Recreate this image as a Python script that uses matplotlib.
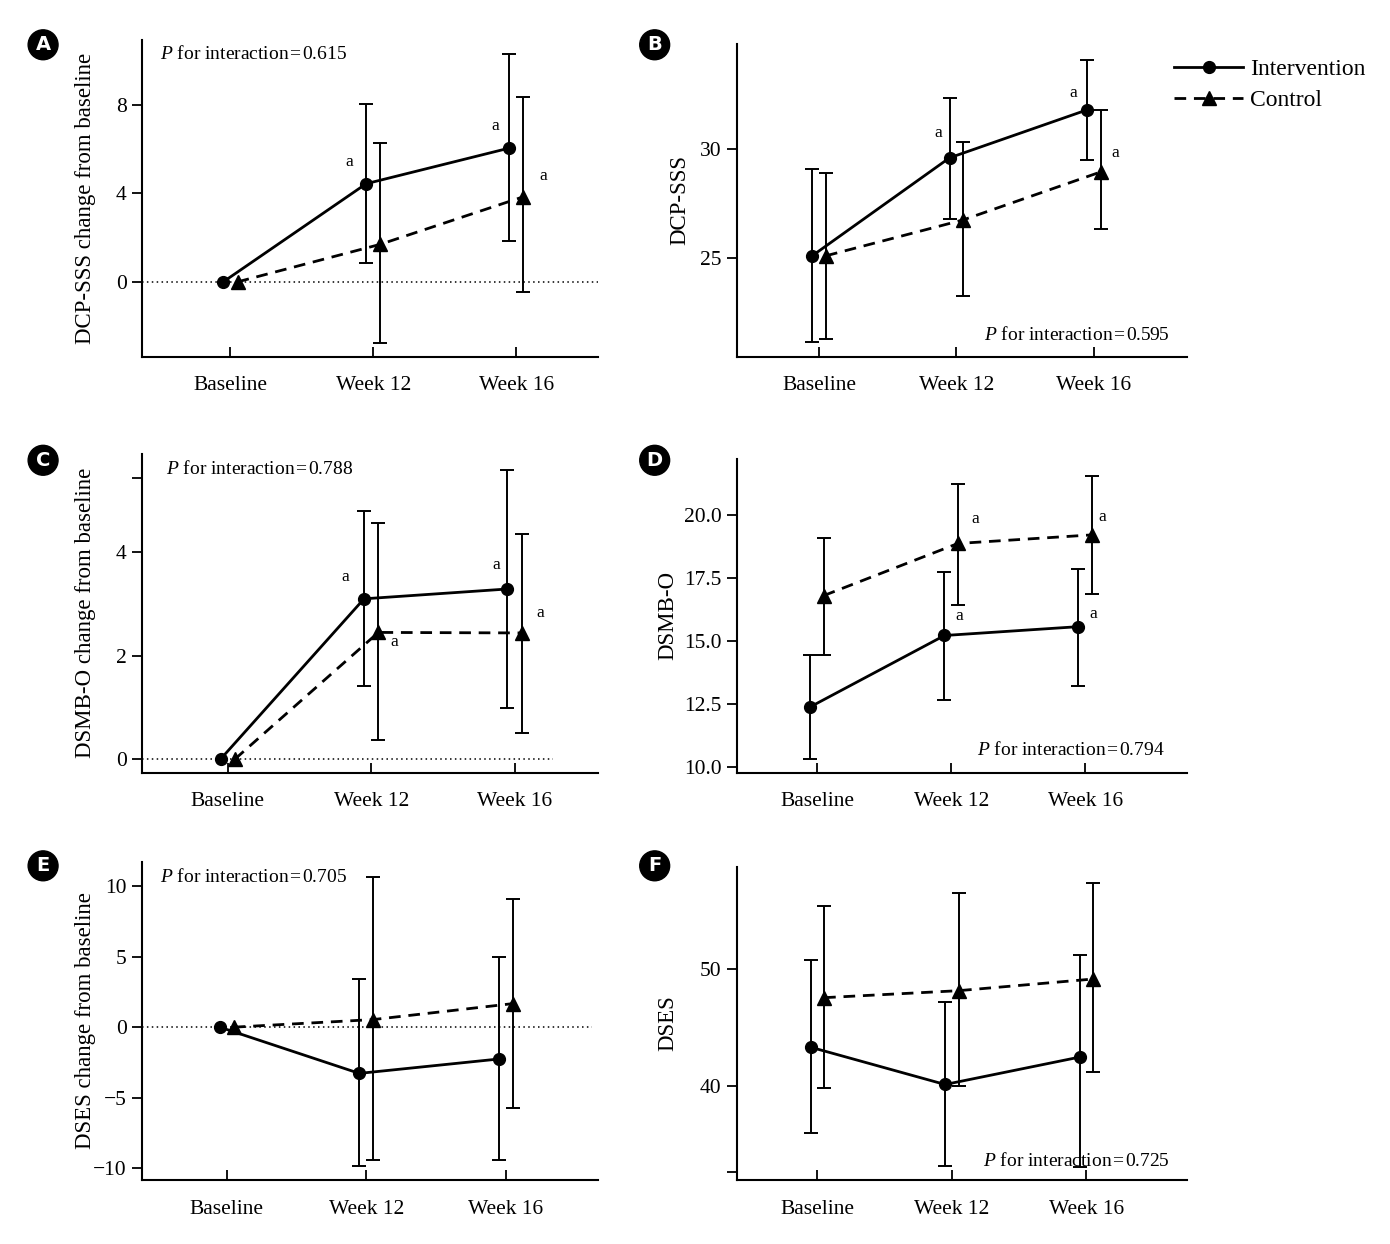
"""Six-panel change/level plot: intervention vs control over Baseline, Week 12, Week 16."""
import numpy as np
import matplotlib

matplotlib.use("Agg")
import matplotlib.pyplot as plt
from matplotlib.lines import Line2D

plt.rcParams["font.family"] = ["Liberation Serif", "DejaVu Serif"]
plt.rcParams["mathtext.fontset"] = "custom"
plt.rcParams["mathtext.it"] = "Liberation Serif:italic"
plt.rcParams["mathtext.rm"] = "Liberation Serif"

TIMEPOINTS = ["Baseline", "Week 12", "Week 16"]
nan = np.nan

# A: DCP-SSS change from baseline
A_INT = [0.0, 4.44, 6.05]
A_INT_LO = [nan, 0.84, 1.83]
A_INT_HI = [nan, 8.06, 10.29]
A_CTL = [0.0, 1.7, 3.85]
A_CTL_LO = [nan, -2.76, -0.48]
A_CTL_HI = [nan, 6.29, 8.35]

# B: DCP-SSS
B_INT = [25.1, 29.6, 31.8]
B_INT_LO = [21.12, 26.79, 29.48]
B_INT_HI = [29.07, 32.37, 34.1]
B_CTL = [25.1, 26.75, 28.95]
B_CTL_LO = [21.28, 23.27, 26.35]
B_CTL_HI = [28.92, 30.33, 31.82]

# C: DSMB-O change from baseline
C_INT = [0.0, 3.10, 3.29]
C_INT_LO = [nan, 1.41, 0.99]
C_INT_HI = [nan, 4.79, 5.59]
C_CTL = [0.0, 2.45, 2.44]
C_CTL_LO = [nan, 0.37, 0.51]
C_CTL_HI = [nan, 4.56, 4.36]

# D: DSMB-O
D_INT = [12.4, 15.22, 15.57]
D_INT_LO = [10.33, 12.66, 13.23]
D_INT_HI = [14.45, 17.75, 17.87]
D_CTL = [16.8, 18.86, 19.2]
D_CTL_LO = [14.46, 16.43, 16.87]
D_CTL_HI = [19.06, 21.2, 21.53]

# E: DSES change from baseline
E_INT = [0.0, -3.28, -2.26]
E_INT_LO = [nan, -9.88, -9.43]
E_INT_HI = [nan, 3.42, 4.98]
E_CTL = [0.0, 0.54, 1.67]
E_CTL_LO = [nan, -9.43, -5.73]
E_CTL_HI = [nan, 10.64, 9.08]

# F: DSES
F_INT = [43.3, 40.1, 42.45]
F_INT_LO = [35.9, 33.1, 33.0]
F_INT_HI = [50.8, 47.16, 51.22]
F_CTL = [47.55, 48.15, 49.15]
F_CTL_LO = [39.8, 39.94, 41.16]
F_CTL_HI = [55.4, 56.53, 57.4]

P_VALUES = ["0.615", "0.595", "0.788", "0.794", "0.705", "0.725"]

PANELS = [
    dict(letter="A", int=(A_INT, A_INT_LO, A_INT_HI), ctl=(A_CTL, A_CTL_LO, A_CTL_HI),
         ylabel="DCP-SSS change from baseline", ylim=(-3.4, 10.95), yticks=[0, 4, 8], ylabels=["0", "4", "8"],
         zero=2.6, xlim=(-0.62, 2.57), rect=[0.102, 0.713, 0.328, 0.255], lab_x=-0.10,
         ptxt=(0.04, 0.955, "left"), marks=[(0.83, 5.4), (1.85, 7.06), (2.19, 4.8)]),
    dict(letter="B", int=(B_INT, B_INT_LO, B_INT_HI), ctl=(B_CTL, B_CTL_LO, B_CTL_HI),
         ylabel="DCP-SSS", ylim=(20.45, 34.85), yticks=[25, 30], ylabels=["25", "30"],
         zero=None, xlim=(-0.6, 2.68), rect=[0.530, 0.713, 0.324, 0.252], lab_x=-0.102,
         ptxt=(0.962, 0.07, "right"), marks=[(0.87, 30.74), (1.85, 32.6), (2.16, 29.8)]),
    dict(letter="C", int=(C_INT, C_INT_LO, C_INT_HI), ctl=(C_CTL, C_CTL_LO, C_CTL_HI),
         ylabel="DSMB-O change from baseline", ylim=(-0.26, 5.9), yticks=[0, 2, 4, 5.43], ylabels=["0", "2", "4", ""],
         zero=2.27, xlim=(-0.6, 2.58), rect=[0.102, 0.379, 0.328, 0.256], lab_x=-0.10,
         ptxt=(0.053, 0.953, "left"),
         marks=[(0.82, 3.52), (1.87, 3.76), (1.16, 2.26), (2.18, 2.83)]),
    dict(letter="D", int=(D_INT, D_INT_LO, D_INT_HI), ctl=(D_CTL, D_CTL_LO, D_CTL_HI),
         ylabel="DSMB-O", ylim=(9.8, 22.2), yticks=[10, 12.5, 15, 17.5, 20],
         ylabels=["10.0", "12.5", "15.0", "17.5", "20.0"],
         zero=None, xlim=(-0.6, 2.76), rect=[0.530, 0.379, 0.324, 0.252], lab_x=-0.129,
         ptxt=(0.951, 0.073, "right"),
         marks=[(1.18, 19.82), (2.13, 19.9), (1.06, 16.0), (2.06, 16.07)]),
    dict(letter="E", int=(E_INT, E_INT_LO, E_INT_HI), ctl=(E_CTL, E_CTL_LO, E_CTL_HI),
         ylabel="DSES change from baseline", ylim=(-10.85, 11.75), yticks=[-10, -5, 0, 5, 10],
         ylabels=["\u221210", "\u22125", "0", "5", "10"],
         zero=2.62, xlim=(-0.61, 2.66), rect=[0.102, 0.0514, 0.328, 0.256], lab_x=-0.10,
         ptxt=(0.04, 0.953, "left"), marks=[]),
    dict(letter="F", int=(F_INT, F_INT_LO, F_INT_HI), ctl=(F_CTL, F_CTL_LO, F_CTL_HI),
         ylabel="DSES", ylim=(31.9, 58.8), yticks=[32.6, 40, 50], ylabels=["", "40", "50"],
         zero=None, xlim=(-0.6, 2.75), rect=[0.530, 0.0514, 0.324, 0.252], lab_x=-0.129,
         ptxt=(0.962, 0.06, "right"), marks=[]),
]

LETTER_POS = {"A": (0.031, 0.964), "B": (0.471, 0.964), "C": (0.031, 0.630),
              "D": (0.471, 0.630), "E": (0.031, 0.304), "F": (0.471, 0.304)}

LW = 2.0
DASH = (0, (4.2, 2.8))


def draw_group(ax, x, vals, style):
    mean, lo, hi = (np.asarray(v, dtype=float) for v in vals)
    ax.plot(x, mean, color="black", lw=LW, linestyle=style["ls"], marker=style["marker"],
            markersize=style["ms"], zorder=3)
    ok = np.isfinite(lo)
    yerr = np.vstack([mean[ok] - lo[ok], hi[ok] - mean[ok]])
    ax.errorbar(x[ok], mean[ok], yerr=yerr, fmt="none", ecolor="black",
                elinewidth=1.4, capsize=5, capthick=1.4, zorder=2)


INT_STYLE = dict(ls="-", marker="o", ms=8.5)
CTL_STYLE = dict(ls=DASH, marker="^", ms=10)

fig = plt.figure(figsize=(13.9, 12.44), dpi=100)
pos = np.arange(len(TIMEPOINTS))

for p, pv in zip(PANELS, P_VALUES):
    ax = fig.add_axes(p["rect"])
    if p["zero"] is not None:
        ax.plot([p["xlim"][0], p["zero"]], [0, 0], color="black", lw=1.1, linestyle=(0, (1, 2.2)), zorder=1)
    draw_group(ax, pos - 0.05, p["int"], INT_STYLE)
    draw_group(ax, pos + 0.05, p["ctl"], CTL_STYLE)

    for mx, my in p["marks"]:
        ax.text(mx, my, "a", fontsize=12.5, ha="center", va="center")

    tx, ty, ha = p["ptxt"]
    ax.text(tx, ty, r"$P$ for interaction" + "\u200a=\u200a" + pv, transform=ax.transAxes,
            fontsize=14, ha=ha, va="center")

    ax.set_xlim(*p["xlim"])
    ax.set_ylim(*p["ylim"])
    ax.set_xticks(pos)
    ax.set_xticklabels(TIMEPOINTS)
    ax.set_yticks(p["yticks"])
    ax.set_yticklabels(p["ylabels"])
    ax.set_ylabel(p["ylabel"], fontsize=16.5)
    ax.yaxis.set_label_coords(p["lab_x"], 0.5)
    for s in ("top", "right"):
        ax.spines[s].set_visible(False)
    for s in ("left", "bottom"):
        ax.spines[s].set_linewidth(1.5)
    ax.tick_params(axis="x", direction="in", length=7, width=1.3, labelsize=15.5, pad=14)
    ax.tick_params(axis="y", direction="out", length=7, width=1.3, labelsize=15.5, pad=4)

    lx, ly = LETTER_POS[p["letter"]]
    fig.text(lx, ly, p["letter"], color="white", fontsize=14, fontweight="bold",
             family="DejaVu Sans", ha="center", va="center",
             bbox=dict(boxstyle="circle,pad=0.28", fc="black", ec="black"))

handles = [
    Line2D([], [], color="black", lw=LW, linestyle="-", marker="o", markersize=8.5),
    Line2D([], [], color="black", lw=LW, linestyle=DASH, marker="^", markersize=10),
]
fig.legend(handles, ["Intervention", "Control"], loc="upper left",
           bbox_to_anchor=(1165 / 1390, 1 - 49 / 1244), frameon=False, fontsize=17,
           handlelength=2.9, handletextpad=0.3, labelspacing=0.42, borderaxespad=0)

fig.savefig("out.png", dpi=100)
